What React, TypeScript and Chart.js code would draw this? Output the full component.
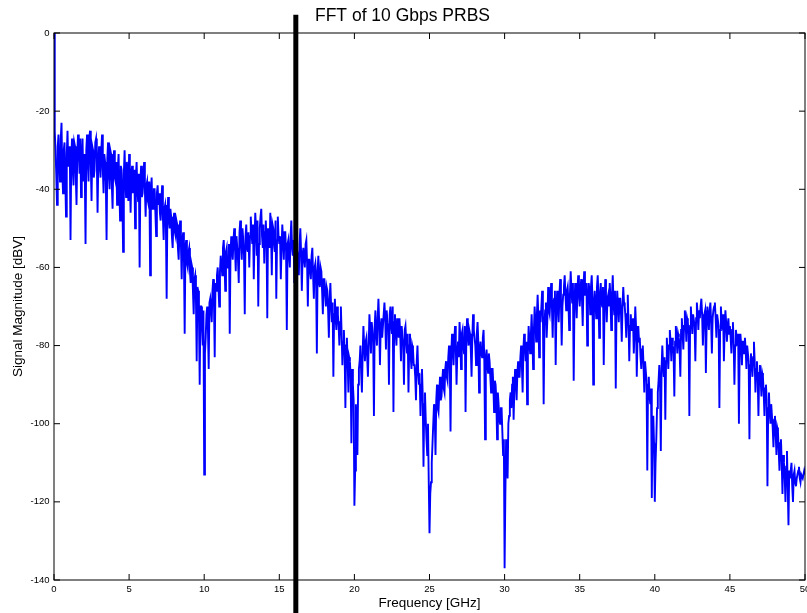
import React, { useEffect, useRef } from 'react';
import { Chart, registerables } from 'chart.js';

Chart.register(...registerables);

const TITLE = 'FFT of 10 Gbps PRBS';
const X_LABEL = 'Frequency [GHz]';
const Y_LABEL = 'Signal Magnitude [dBV]';

// Frequency grid of the spectrum samples (GHz)
const FREQ_START_GHZ = 0;
const FREQ_STEP_GHZ = 0.05;

// Spectrum magnitude in dBV, one row per GHz (20 samples each)
const magnitudeDbv: number[] = [
  0, -25, -30, -36, -44, -29, -26, -33, -38, -27, -23, -35, -41, -30, -28, -37, -47, -31, -25, -34,
  -34, -29, -53, -32, -27, -35, -39, -28, -29, -37, -44, -31, -26, -30, -36, -27, -42, -33, -27, -38,
  -31, -36, -54, -30, -26, -33, -38, -27, -25, -34, -43, -29, -30, -37, -35, -28, -27, -32, -46, -33,
  -29, -34, -37, -30, -26, -35, -41, -31, -33, -38, -53, -32, -28, -36, -40, -30, -31, -39, -45, -33,
  -30, -37, -38, -33, -44, -35, -31, -40, -48, -34, -35, -41, -56, -36, -30, -38, -42, -33, -36, -43,
  -31, -38, -46, -36, -34, -41, -39, -35, -50, -37, -33, -40, -43, -36, -60, -38, -34, -42, -41, -37,
  -33, -40, -47, -39, -38, -43, -44, -38, -62, -42, -37, -45, -45, -40, -40, -46, -52, -41, -39, -44,
  -41, -46, -48, -43, -39, -47, -53, -45, -44, -49, -68, -46, -42, -48, -50, -45, -47, -52, -55, -48,
  -46, -51, -52, -48, -49, -55, -58, -51, -48, -54, -63, -53, -51, -57, -77, -55, -53, -59, -60, -56,
  -55, -61, -64, -59, -60, -66, -72, -63, -62, -68, -84, -65, -66, -72, -90, -70, -70, -75, -80, -71,
  -113, -82, -78, -72, -70, -76, -86, -69, -68, -71, -74, -66, -63, -69, -83, -64, -66, -62, -60, -65,
  -70, -61, -57, -59, -62, -55, -53, -58, -66, -56, -55, -60, -60, -54, -77, -57, -52, -56, -58, -53,
  -50, -55, -61, -52, -55, -58, -64, -51, -48, -54, -58, -50, -53, -57, -72, -52, -49, -55, -56, -51,
  -60, -52, -47, -51, -54, -49, -63, -53, -46, -50, -57, -48, -70, -54, -50, -47, -45, -52, -55, -49,
  -59, -51, -48, -53, -73, -50, -52, -55, -46, -51, -62, -49, -50, -54, -56, -48, -68, -53, -47, -52,
  -54, -52, -63, -55, -49, -53, -58, -51, -51, -56, -76, -54, -53, -57, -60, -52, -48, -55, -57, -53,
  -64, -57, -52, -55, -56, -59, -62, -54, -50, -56, -66, -57, -55, -58, -60, -54, -53, -59, -70, -58,
  -58, -61, -63, -57, -55, -62, -68, -60, -59, -63, -82, -61, -57, -64, -65, -60, -61, -66, -72, -63,
  -63, -67, -70, -65, -66, -71, -78, -68, -64, -70, -74, -69, -88, -72, -68, -73, -76, -70, -72, -75,
  -80, -74, -70, -77, -85, -79, -76, -82, -96, -80, -78, -84, -92, -83, -84, -88, -105, -86, -90, -94,
  -121, -112, -95, -100, -108, -90, -86, -84, -80, -87, -92, -82, -75, -80, -84, -79, -78, -83, -88, -80,
  -72, -76, -82, -74, -76, -79, -98, -75, -71, -77, -80, -73, -68, -74, -85, -76, -73, -78, -78, -72,
  -69, -73, -81, -71, -74, -76, -90, -72, -70, -75, -77, -70, -97, -74, -72, -77, -80, -73, -75, -78,
  -73, -77, -84, -75, -78, -80, -90, -76, -75, -79, -82, -77, -92, -80, -77, -83, -86, -80, -81, -85,
  -85, -88, -94, -84, -80, -87, -90, -89, -98, -90, -86, -93, -111, -95, -92, -99, -104, -108, -100, -115,
  -128, -118, -115, -110, -105, -100, -95, -98, -108, -94, -90, -96, -97, -92, -88, -94, -93, -89, -86, -91,
  -92, -86, -84, -88, -89, -83, -80, -84, -102, -82, -77, -81, -85, -79, -75, -80, -90, -82, -79, -83,
  -74, -78, -86, -77, -76, -80, -82, -75, -97, -79, -73, -77, -80, -76, -77, -81, -88, -78, -72, -76,
  -78, -80, -85, -77, -74, -79, -92, -81, -79, -82, -83, -78, -76, -84, -104, -83, -81, -85, -87, -82,
  -84, -88, -92, -86, -86, -90, -97, -89, -90, -94, -104, -92, -95, -99, -100, -96, -96, -102, -108, -104,
  -137, -118, -104, -108, -114, -100, -98, -94, -92, -96, -90, -88, -99, -91, -86, -89, -94, -87, -84, -88,
  -88, -83, -80, -85, -92, -81, -77, -80, -84, -79, -95, -82, -75, -79, -82, -77, -72, -78, -86, -76,
  -70, -74, -79, -72, -67, -73, -83, -71, -74, -70, -66, -72, -95, -75, -71, -69, -78, -73, -65, -71,
  -72, -68, -64, -70, -78, -69, -68, -66, -85, -71, -66, -70, -74, -67, -63, -69, -80, -70, -67, -65,
  -62, -67, -71, -66, -65, -69, -76, -67, -61, -66, -69, -64, -89, -70, -64, -68, -73, -66, -62, -67,
  -70, -66, -63, -68, -75, -65, -61, -67, -67, -64, -80, -69, -64, -66, -72, -65, -62, -68, -90, -70,
  -66, -69, -73, -65, -62, -68, -78, -67, -64, -69, -70, -65, -85, -71, -63, -67, -74, -68, -67, -70,
  -64, -68, -76, -67, -62, -69, -72, -66, -91, -71, -66, -70, -74, -68, -68, -72, -79, -70, -65, -69,
  -70, -73, -78, -72, -67, -74, -84, -75, -72, -76, -76, -73, -82, -77, -70, -75, -88, -78, -75, -79,
  -78, -83, -86, -81, -80, -85, -92, -84, -84, -89, -112, -90, -88, -93, -95, -91, -119, -100, -98, -105,
  -120, -110, -104, -96, -92, -89, -85, -90, -107, -86, -80, -85, -88, -83, -99, -84, -78, -82, -86, -80,
  -76, -79, -84, -78, -80, -82, -93, -79, -75, -78, -82, -77, -78, -81, -88, -76, -73, -77, -81, -75,
  -71, -74, -79, -73, -74, -77, -98, -75, -70, -74, -77, -72, -72, -75, -84, -73, -69, -72, -76, -71,
  -73, -70, -68, -72, -80, -74, -72, -71, -87, -75, -70, -73, -76, -71, -69, -74, -82, -73, -71, -70,
  -69, -73, -78, -72, -72, -75, -96, -76, -70, -74, -75, -72, -84, -76, -71, -74, -79, -75, -73, -77,
  -75, -78, -82, -76, -74, -79, -90, -80, -76, -78, -80, -77, -100, -81, -77, -80, -85, -79, -79, -82,
  -78, -81, -86, -80, -80, -84, -104, -85, -82, -85, -88, -83, -79, -84, -92, -86, -84, -88, -98, -87,
  -85, -89, -93, -87, -88, -92, -98, -91, -90, -94, -116, -96, -92, -97, -100, -95, -95, -101, -106, -99,
  -98, -103, -108, -101, -102, -107, -112, -105, -104, -110, -118, -108, -110, -114, -120, -111, -107, -116, -126, -112,
  -114, -112, -110, -116, -120, -113, -112, -115, -116, -114, -113, -112, -111, -114, -115, -113, -113, -114, -113, -112,
  -113,
];

// Axis ranges and tick values
const X_MIN = 0;
const X_MAX = 50;
const Y_MIN = -140;
const Y_MAX = 0;
const xTickValues = [0, 5, 10, 15, 20, 25, 30, 35, 40, 45, 50];
const yTickValues = [0, -20, -40, -60, -80, -100, -120, -140];

// Vertical marker line (GHz) and its vertical extent (dBV)
const markerFreqGhz = 16.1;
const markerSpanDbv = [4.7, -150];

const FONT = "'Liberation Sans', Arial, Helvetica, sans-serif";

const boxPlugin = {
  id: 'matlabBox',
  afterDatasetsDraw(chart: any) {
    const { ctx, chartArea: a, scales } = chart;
    const L = 6;
    ctx.save();
    ctx.strokeStyle = '#000';
    ctx.lineWidth = 1;
    ctx.strokeRect(a.left, a.top, a.right - a.left, a.bottom - a.top);
    ctx.beginPath();
    for (const t of xTickValues) {
      const px = scales.x.getPixelForValue(t);
      ctx.moveTo(px, a.bottom);
      ctx.lineTo(px, a.bottom - L);
      ctx.moveTo(px, a.top);
      ctx.lineTo(px, a.top + L);
    }
    for (const t of yTickValues) {
      const py = scales.y.getPixelForValue(t);
      ctx.moveTo(a.left, py);
      ctx.lineTo(a.left + L, py);
      ctx.moveTo(a.right, py);
      ctx.lineTo(a.right - L, py);
    }
    ctx.stroke();
    ctx.restore();
  },
};

export default function App() {
  const ref = useRef<HTMLCanvasElement | null>(null);

  useEffect(() => {
    if (!ref.current) return;
    const spectrum = magnitudeDbv.map((v, i) => ({
      x: +(FREQ_START_GHZ + i * FREQ_STEP_GHZ).toFixed(3),
      y: v,
    }));
    const marker = markerSpanDbv.map((y) => ({ x: markerFreqGhz, y }));

    const chart = new Chart(ref.current, {
      type: 'line',
      data: {
        datasets: [
          {
            label: 'marker',
            data: marker,
            borderColor: '#000000',
            borderWidth: 5,
            pointRadius: 0,
            clip: false as any,
            tension: 0,
          },
          {
            label: 'FFT',
            data: spectrum,
            borderColor: '#0000ff',
            borderWidth: 1.9,
            pointRadius: 0,
            tension: 0,
          },
        ],
      },
      options: {
        animation: false,
        responsive: false,
        maintainAspectRatio: false,
        parsing: false as any,
        normalized: true,
        layout: { padding: { left: 0, right: 2, top: 0, bottom: 0 } },
        plugins: {
          legend: { display: false },
          tooltip: { enabled: false },
          title: {
            display: true,
            text: TITLE,
            color: '#000',
            font: { family: FONT, size: 17.5, weight: 'normal' as any, lineHeight: 1.2 },
            padding: { top: 6, bottom: 6 },
          },
        },
        scales: {
          x: {
            type: 'linear',
            min: X_MIN,
            max: X_MAX,
            grid: { display: false, drawTicks: false, tickLength: 0 },
            border: { display: false },
            afterBuildTicks: (scale: any) => {
              scale.ticks = xTickValues.map((v) => ({ value: v }));
            },
            ticks: {
              autoSkip: false,
              maxRotation: 0,
              padding: 4,
              color: '#000',
              font: { family: FONT, size: 9.5 },
            },
            title: {
              display: true,
              text: X_LABEL,
              color: '#000',
              font: { family: FONT, size: 13.5 },
              padding: { top: 0, bottom: 2 },
            },
            afterFit: (scale: any) => {
              scale.height = 33;
              scale.paddingLeft = 0;
              scale.paddingRight = 0;
            },
          },
          y: {
            type: 'linear',
            min: Y_MIN,
            max: Y_MAX,
            grid: { display: false, drawTicks: false, tickLength: 0 },
            border: { display: false },
            afterBuildTicks: (scale: any) => {
              scale.ticks = yTickValues.slice().reverse().map((v) => ({ value: v }));
            },
            ticks: {
              autoSkip: false,
              padding: 4.5,
              color: '#000',
              font: { family: FONT, size: 9.5 },
            },
            title: {
              display: true,
              text: Y_LABEL,
              color: '#000',
              font: { family: FONT, size: 13.5 },
              padding: { top: 10, bottom: 0 },
            },
            afterFit: (scale: any) => {
              scale.width = 54;
              scale.paddingTop = 0;
              scale.paddingBottom = 0;
            },
          },
        },
      },
      plugins: [boxPlugin],
    });
    return () => chart.destroy();
  }, []);

  return (
    <div
      style={{
        position: 'fixed',
        left: 0,
        top: 0,
        width: 807,
        height: 613,
        background: '#fff',
      }}
    >
      <canvas ref={ref} width={807} height={613} style={{ width: 807, height: 613, display: 'block' }} />
    </div>
  );
}
